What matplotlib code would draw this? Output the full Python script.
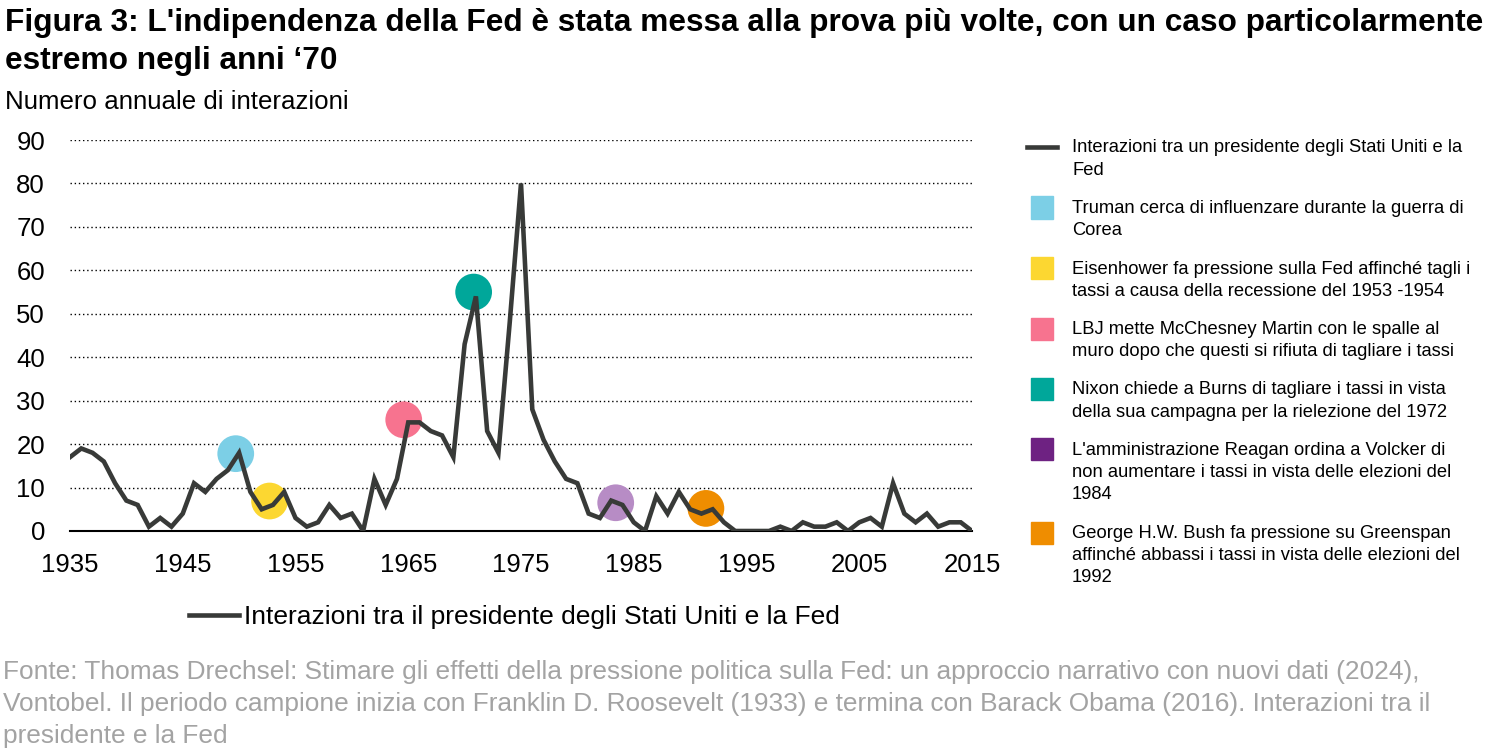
import matplotlib
matplotlib.use("Agg")
import matplotlib.pyplot as plt
from matplotlib.patches import Rectangle
from matplotlib.lines import Line2D

plt.rcParams['font.family'] = ['Liberation Sans', 'DejaVu Sans']

years = list(range(1935, 2016))
interactions = [17, 19, 18, 16, 11, 7, 6, 1, 3, 1, 4, 11, 9, 12, 14, 18, 9, 5, 6, 9,
                3, 1, 2, 6, 3, 4, 0, 12, 6, 12, 25, 25, 23, 22, 17, 43, 54, 23, 18, 48,
                80, 28, 21, 16, 12, 11, 4, 3, 7, 6, 2, 0, 8, 4, 9, 5, 4, 5, 2, 0,
                0, 0, 0, 1, 0, 2, 1, 1, 2, 0, 2, 3, 1, 11, 4, 2, 4, 1, 2, 2, 0]

event_x = [1949.7, 1952.7, 1964.6, 1970.8, 1983.4, 1991.4]
event_y = [17.8, 6.9, 25.6, 55.0, 6.5, 5.2]
event_colors = ['#7ccfe6', '#fcd731', '#f7738f', '#00a79a', '#b78cc5', '#ef8d00']
legend_colors = ['#7ccfe6', '#fcd731', '#f7738f', '#00a79a', '#6e2282', '#ef8d00']
event_labels = [
    "Truman cerca di influenzare durante la guerra di\nCorea",
    "Eisenhower fa pressione sulla Fed affinché tagli i\ntassi a causa della recessione del 1953 -1954",
    "LBJ mette McChesney Martin con le spalle al\nmuro dopo che questi si rifiuta di tagliare i tassi",
    "Nixon chiede a Burns di tagliare i tassi in vista\ndella sua campagna per la rielezione del 1972",
    "L'amministrazione Reagan ordina a Volcker di\nnon aumentare i tassi in vista delle elezioni del\n1984",
    "George H.W. Bush fa pressione su Greenspan\naffinché abbassi i tassi in vista delle elezioni del\n1992",
]
line_label_right = "Interazioni tra un presidente degli Stati Uniti e la\nFed"
line_label_bottom = "Interazioni tra il presidente degli Stati Uniti e la Fed"
xticks = [1935, 1945, 1955, 1965, 1975, 1985, 1995, 2005, 2015]
yticks = [0, 10, 20, 30, 40, 50, 60, 70, 80, 90]

W, H = 1500, 751
fig = plt.figure(figsize=(15, 7.51), dpi=100)
ax = fig.add_axes([70 / W, 1 - 531 / H, (972 - 70) / W, (531 - 140) / H])

line_color = '#383a38'
ax.scatter(event_x, event_y, s=700, c=event_colors, zorder=2, linewidths=0)
ln, = ax.plot(years, interactions, color=line_color, lw=3.3, zorder=3,
              solid_joinstyle='miter', label=line_label_bottom)

ax.set_xlim(1935, 2015)
ax.set_ylim(0, 90)
ax.set_xticks(xticks)
ax.set_yticks(yticks)
ax.tick_params(axis='both', length=0, labelsize=18.5)
ax.tick_params(axis='y', pad=18)
ax.tick_params(axis='x', pad=16)
for s in ['left', 'right', 'top']:
    ax.spines[s].set_visible(False)
ax.spines['bottom'].set_color('black')
ax.spines['bottom'].set_linewidth(1.5)
ax.spines['bottom'].set_zorder(1)
for t in yticks[1:]:
    ax.axhline(t, color='black', lw=1, ls=(0, (1, 2)), zorder=1)

# Bottom legend
fig.legend(handles=[ln], loc='center left', bbox_to_anchor=(189 / W, 1 - 617 / H),
           frameon=False, fontsize=19, handlelength=1.9, handletextpad=0.2,
           borderpad=0, borderaxespad=0)

# Titles
fig.text(5 / W, 1 - 23 / H, "Figura 3: L'indipendenza della Fed è stata messa alla prova più volte, con un caso particolarmente",
         fontsize=22.8, fontweight='bold', va='center', ha='left')
fig.text(5 / W, 1 - 61 / H, "estremo negli anni ‘70", fontsize=22.8, fontweight='bold', va='center', ha='left')
fig.text(5 / W, 1 - 102 / H, "Numero annuale di interazioni", fontsize=18.6, va='center', ha='left')

# Right legend
lx_text = 1072 / W
line_step = 22.5
fs_leg = 13.2
y = 147.0
fig.add_artist(Line2D([1027 / W, 1057 / W], [1 - y / H, 1 - y / H], color=line_color, lw=3.3))
fig.text(lx_text, 1 - (y - 7.5) / H, line_label_right, fontsize=fs_leg, va='top', ha='left',
         linespacing=1.39)
y += line_step * line_label_right.count('\n') + line_step + 15.5
for col, lab in zip(legend_colors, event_labels):
    fig.add_artist(Rectangle((1031 / W, 1 - (y + 11) / H), 22 / W, 22 / H, color=col,
                             transform=fig.transFigure))
    fig.text(lx_text, 1 - (y - 7.5) / H, lab, fontsize=fs_leg, va='top', ha='left', linespacing=1.39)
    y += line_step * lab.count('\n') + line_step + 15.5

# Source
fig.text(3 / W, 1 - 660 / H,
         "Fonte: Thomas Drechsel: Stimare gli effetti della pressione politica sulla Fed: un approccio narrativo con nuovi dati (2024),\n"
         "Vontobel. Il periodo campione inizia con Franklin D. Roosevelt (1933) e termina con Barack Obama (2016). Interazioni tra il\n"
         "presidente e la Fed",
         fontsize=18.9, color='#a3a3a3', va='top', ha='left', linespacing=1.41)

fig.savefig('out.png', dpi=100)
